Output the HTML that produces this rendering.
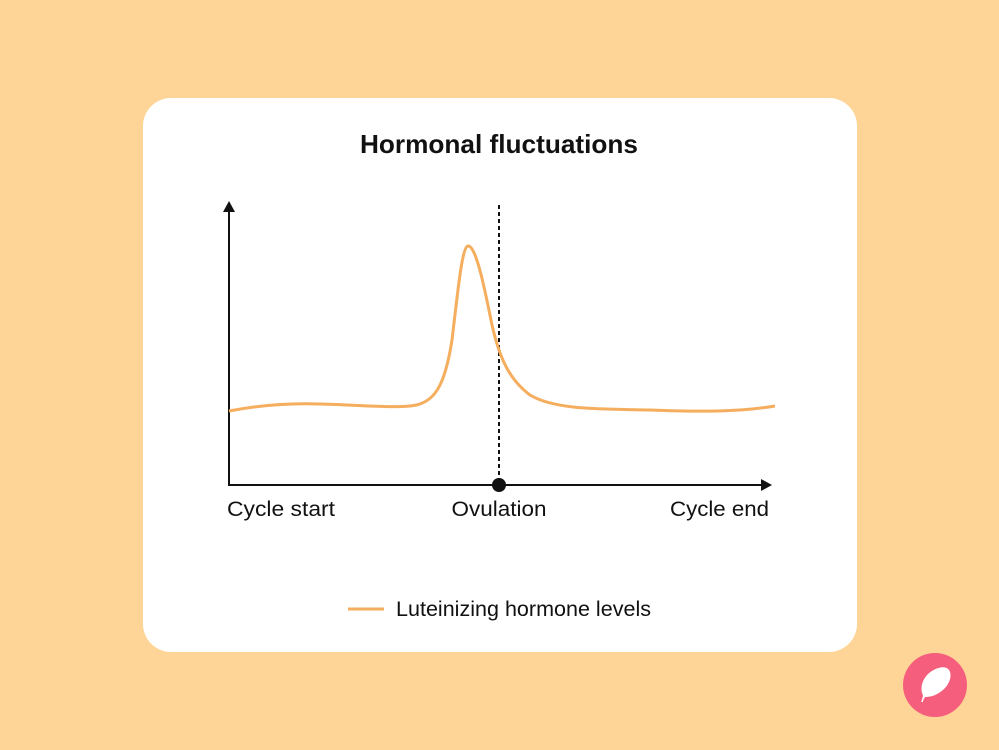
<!DOCTYPE html>
<html><head><style>
html,body{margin:0;padding:0;}
body{width:999px;height:750px;background:#FED497;position:relative;overflow:hidden;font-family:"Liberation Sans",sans-serif;}
.card{position:absolute;left:143px;top:98px;width:714px;height:554px;background:#fff;border-radius:28px;}
</style></head><body>
<div class="card"></div>
<svg width="999" height="750" style="position:absolute;left:0;top:0">
<text x="499" y="153" text-anchor="middle" font-family="Liberation Sans, sans-serif" font-size="26" font-weight="bold" fill="#111" textLength="278" lengthAdjust="spacingAndGlyphs">Hormonal fluctuations</text>
<line x1="229" y1="486" x2="229" y2="210" stroke="#111" stroke-width="2"/>
<polygon points="229,201 223,212 235,212" fill="#111"/>
<line x1="229" y1="485" x2="762" y2="485" stroke="#111" stroke-width="2"/>
<polygon points="772,485 761,479 761,491" fill="#111"/>
<line x1="499" y1="205" x2="499" y2="485" stroke="#111" stroke-width="2" stroke-dasharray="4,3"/>
<circle cx="499" cy="485" r="7" fill="#111"/>
<path d="M229,411 C260,405 290,403 320,404 C360,405 390,408 410,406 C435,404 445,385 452,340 C458,290 462,247 468,246 C476,245 485,290 492,325 C500,360 510,380 530,395 C555,410 600,409 650,410 C700,412 740,412 775,406" fill="none" stroke="#F5AD5E" stroke-width="3"/>
<text x="227" y="516" font-size="21" fill="#111" textLength="108" lengthAdjust="spacingAndGlyphs">Cycle start</text>
<text x="499" y="516" text-anchor="middle" font-size="21" fill="#111" textLength="95" lengthAdjust="spacingAndGlyphs">Ovulation</text>
<text x="769" y="516" text-anchor="end" font-size="21" fill="#111" textLength="99" lengthAdjust="spacingAndGlyphs">Cycle end</text>
<line x1="348" y1="609" x2="384" y2="609" stroke="#F5AD5E" stroke-width="3"/>
<text x="396" y="616" font-size="21" fill="#111" textLength="255" lengthAdjust="spacingAndGlyphs">Luteinizing hormone levels</text>
<circle cx="935" cy="685" r="32" fill="#F55F7D"/>
<path d="M922,702 C925,690 930,682 938,676 M924,696 C918,684 928,670 942,668 C952,667 952,680 944,688 C938,694 930,697 924,696 Z" fill="#fff" stroke="#fff" stroke-width="1.5"/>
</svg>
</body></html>
